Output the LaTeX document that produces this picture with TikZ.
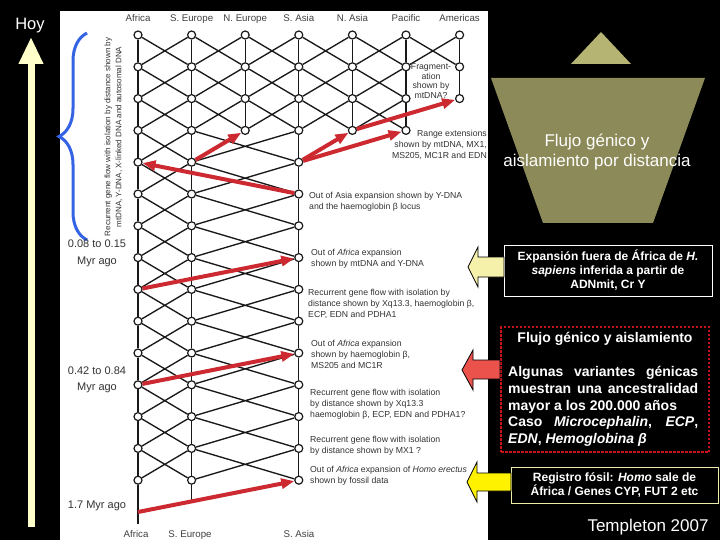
\documentclass[tikz,border=0pt]{standalone}
\usepackage{fontspec}
\setmainfont{Liberation Sans}
\usepackage{tikz}
\usetikzlibrary{arrows.meta,decorations.pathreplacing,positioning}
\pgfdeclarelayer{bglayer}
\pgfdeclarelayer{edgelayer}
\pgfsetlayers{bglayer,edgelayer,main}
\definecolor{flowred}{RGB}{204,42,48}
\definecolor{cream}{RGB}{255,255,204}
\definecolor{paleyellow}{RGB}{245,240,170}
\definecolor{braceblue}{RGB}{52,100,228}
\definecolor{olivelight}{RGB}{182,180,114}
\definecolor{olivedark}{RGB}{139,138,88}
\definecolor{salmon}{RGB}{236,82,76}
\definecolor{boxred}{RGB}{200,20,24}
\definecolor{boxcream}{RGB}{235,235,170}

\tikzset{
  pop/.style={circle,draw=black!90,fill=white,line width=1.2pt,inner sep=0pt,minimum size=8pt},
  link/.style={draw=black!90,line width=1.35pt},
  expand/.style={draw=flowred,line width=4pt,-{Triangle[length=13pt,width=10pt]}},
  region/.style={font=\fontsize{9.7}{11}\selectfont,text=black!75,inner sep=0pt,text height=7pt,text depth=2pt},
  note/.style={font=\fontsize{8.7}{11}\selectfont,text=black!80,align=left,inner sep=0pt,anchor=north west},
  epoch/.style={font=\fontsize{11}{16.5}\selectfont,text=black!80,align=center,inner sep=0pt},
  slidebox/.style={fill=black,text=white,font=\bfseries\fontsize{12}{14}\selectfont,align=center,inner sep=0pt},
  blockarrow/.style={draw=black,line width=0.8pt,line join=miter},
  timeline/.style={draw=cream,line width=7pt,-{Triangle[length=27pt,width=23pt]}}
}

\begin{document}
\begin{tikzpicture}[x=1pt,y=-1pt]
\useasboundingbox (0,0) rectangle (720,540);
\begin{pgfonlayer}{bglayer}
\fill[black] (0,0) rectangle (720,540);
\fill[white] (60,11) rectangle (488,540);
\end{pgfonlayer}

% populations, one row per time step
\foreach \c/\x in {af/138,se/191.6,ne/245.2,sa/298.8,na/352.4,pa/406}
  \foreach \r in {1,...,4}
    \node[pop] (\c-\r) at (\x,{35+31.8*(\r-1)}) {};
\foreach \r in {1,...,3}
  \node[pop] (am-\r) at (459.6,{35+31.8*(\r-1)}) {};
\foreach \c/\x in {af/138,se/191.6,sa/298.8}
  \foreach \r in {5,...,15}
    \node[pop] (\c-\r) at (\x,{35+31.8*(\r-1)}) {};
\coordinate (af-0) at (138,512);
\coordinate (af-base) at (138,524);
\coordinate (se-0) at (191.6,501.4);

\begin{pgfonlayer}{edgelayer}
\foreach \c in {af,se,ne,sa,na,pa}
  \foreach \r/\s in {1/2,2/3,3/4}
    \draw[link] (\c-\r) -- (\c-\s);
\draw[link] (am-1) -- (am-2) -- (am-3);
\foreach \a/\b in {se/ne,ne/sa,sa/na,na/pa}
  \foreach \r/\s in {1/2,2/3,3/4}
    \draw[link] (\a-\r) -- (\b-\s) (\b-\r) -- (\a-\s);
\draw[link] (pa-1) -- (am-2) (am-1) -- (pa-2);
\foreach \c in {af,se,sa}
  \foreach \r/\s in {4/5,5/6,6/7,7/8,8/9,9/10,10/11,11/12,12/13,13/14,14/15}
    \draw[link] (\c-\r) -- (\c-\s);
\foreach \r/\s in {1/2,2/3,3/4,4/5,5/6,6/7,7/8,8/9,9/10,10/11,11/12,12/13,13/14,14/15}
  \draw[link] (af-\r) -- (se-\s) (se-\r) -- (af-\s);
\foreach \r/\s in {4/5,5/6,6/7,7/8,8/9,9/10,10/11,11/12,12/13,13/14,14/15}
  \draw[link] (se-\r) -- (sa-\s) (sa-\r) -- (se-\s);
\draw[link] (se-15) -- (se-0);
\draw[link,line width=2.8pt] (af-15) -- (af-base);
\end{pgfonlayer}

% expansions
\draw[expand] (af-0) -- (sa-15);
\draw[expand] (af-12) -- (sa-11);
\draw[expand] (af-9) -- (sa-8);
\draw[expand] (sa-6) -- (af-5);
\draw[expand] (se-5) -- (ne-4);
\draw[expand] (sa-5) -- (na-4);
\draw[expand] (sa-5) -- (pa-4);
\draw[expand] (na-4) -- (am-3);

% region names
\node[region,above=7pt of af-1] {Africa};
\node[region,above=7pt of se-1] {S. Europe};
\node[region,above=7pt of ne-1] {N. Europe};
\node[region,above=7pt of sa-1] {S. Asia};
\node[region,above=7pt of na-1] {N. Asia};
\node[region,above=7pt of pa-1] {Pacific};
\node[region,above=7pt of am-1] {Americas};
\node[region] (afb) at (136,535) {Africa};
\node[region] (seb) at (190,535) {S. Europe};
\node[region] (sab) at (299,535) {S. Asia};

% notes
\node[note,font=\fontsize{8.7}{9.5}\selectfont,align=center,anchor=center] (frag) at (431,81) {Fragment-\\ation\\shown by\\mtDNA?};
\node[note,align=right,anchor=north east] (range) at (487,129.5) {Range extensions\\shown by mtDNA, MX1,\\MS205, MC1R and EDN};
\node[note] (outasia) at (309,191.5) {Out of Asia expansion shown by Y-DNA\\and the haemoglobin β locus};
\node[note] (oa1) at (311,248.5) {Out of \textit{Africa} expansion\\shown by mtDNA and Y-DNA};
\node[note] (rg1) at (308,288.5) {Recurrent gene flow with isolation by\\distance shown by Xq13.3, haemoglobin β,\\ECP, EDN and PDHA1};
\node[note] (oa2) at (311,339.5) {Out of \textit{Africa} expansion\\shown by haemoglobin β,\\MS205 and MC1R};
\node[note] (rg2) at (310,388.5) {Recurrent gene flow with isolation\\by distance shown by Xq13.3\\haemoglobin β, ECP, EDN and PDHA1?};
\node[note] (rg3) at (310,435.5) {Recurrent gene flow with isolation\\by distance shown by MX1 ?};
\node[note] (oa3) at (310,465.5) {Out of \textit{Africa} expansion of \textit{Homo erectus}\\shown by fossil data};
\node[note,font=\fontsize{8}{11}\selectfont,align=center,anchor=center,rotate=90] (recurrent) at (113.5,137) {Recurrent gene flow with isolation by distance shown by\\mtDNA, Y-DNA, X-linked DNA and autosomal DNA};
\draw[braceblue,line width=3pt,decorate,decoration={brace,amplitude=28pt}] (87,240) -- (87,33);

% epochs
\node[epoch] (ep1) at (97,253.5) {0.08 to 0.15\\Myr ago};
\node[epoch] (ep2) at (97,380) {0.42 to 0.84\\Myr ago};
\node[epoch] (ep3) at (97,506) {1.7 Myr ago};

% time axis
\coordinate (past) at (31,527);
\coordinate (now) at (31,37);
\draw[timeline] (past) -- (now);
\node[text=white,font=\fontsize{16.5}{18}\selectfont] (hoy) at (30,26) {Hoy};

% right panel
\fill[olivelight] (601,32) -- (631,64) -- (571,64) -- cycle;
\fill[olivedark] (491,78) -- (705,78) -- (653,223) -- (543,223) -- cycle;
\node[text=white,font=\fontsize{17}{20}\selectfont,align=center] (flujo) at (597,152) {Flujo génico y\\aislamiento por distancia};

\node[slidebox,draw=white,line width=0.8pt,minimum width=208pt,minimum height=51pt] (outafrica) at (608,270.5) {Expansión fuera de África de \textit{H.}\\\textit{sapiens} inferida a partir de\\ADNmit, Cr Y};
\draw[blockarrow,fill=paleyellow] (504,257) -- (478,257) -- (478,247) -- (468,267) -- (478,287) -- (478,277) -- (504,277) -- cycle;

\node[draw=boxred,line width=2.5pt,dash pattern=on 2.5pt off 1.5pt,minimum width=208pt,minimum height=125pt,inner sep=0pt] (flowbox) at (605,389.5) {};
\node[slidebox,fill=none,font=\bfseries\fontsize{14}{16.8}\selectfont] (flowtitle) at (605,339) {Flujo génico y aislamiento};
\node[slidebox,fill=none,anchor=north west,align=left,font=\bfseries\fontsize{14}{16.8}\selectfont] (variants) at (508,366) {\makebox[190pt][s]{Algunas variantes génicas}\\\makebox[190pt][s]{muestran una ancestralidad}\\mayor a los 200.000 años\\\makebox[190pt][s]{Caso \textit{Microcephalin}, \textit{ECP},}\\\textit{EDN}, \textit{Hemoglobina β}};
\draw[blockarrow,fill=salmon] (500,360) -- (473,360) -- (473,350) -- (462,370) -- (473,390) -- (473,379) -- (500,379) -- cycle;

\node[slidebox,draw=boxcream,line width=0.8pt,font=\bfseries\fontsize{12}{13}\selectfont,minimum width=207pt,minimum height=36pt] (fossil) at (614.5,485) {Registro fósil: \textit{Homo} sale de\\África / Genes CYP, FUT 2 etc};
\draw[blockarrow,fill=yellow] (511,473) -- (477,473) -- (477,462) -- (467,482) -- (477,502) -- (477,491) -- (511,491) -- cycle;

\node[text=white,font=\fontsize{17}{20}\selectfont] (templeton) at (648,527) {Templeton 2007};
\end{tikzpicture}
\end{document}
